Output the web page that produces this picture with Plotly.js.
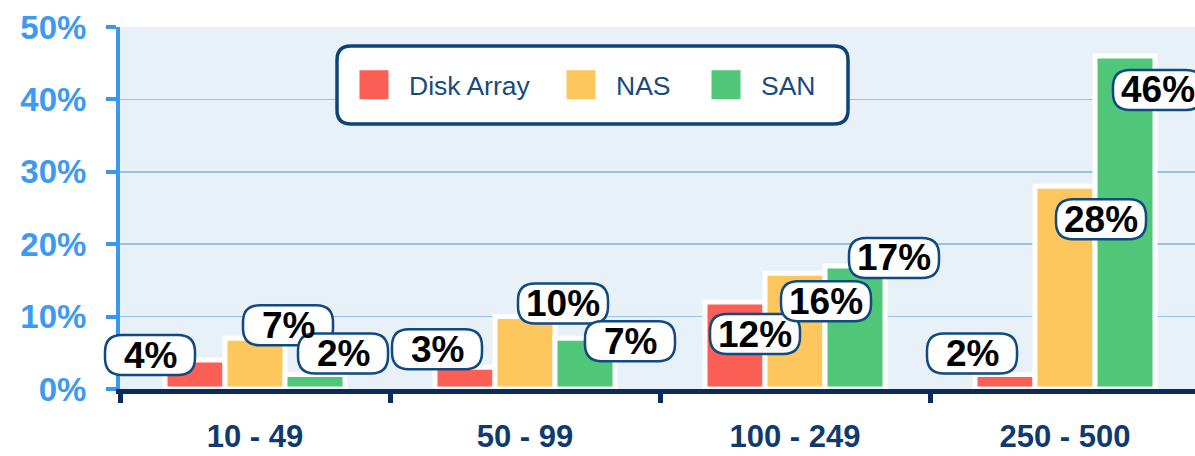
<!DOCTYPE html>
<html>
<head>
<meta charset="utf-8">
<script src="https://cdn.plot.ly/plotly-3.0.1.min.js"></script>
<style>
  html, body { margin: 0; padding: 0; background: #ffffff; }
  #chart { width: 1195px; height: 456px; }
  .shapelayer, .shapelayer * { clip-path: none !important; }
</style>
</head>
<body>
<div id="chart"></div>
<script>
// ---- data ----
const categories = ['10 - 49', '50 - 99', '100 - 249', '250 - 500'];
const diskArray = [4, 3, 12, 2];
const nas = [7, 10, 16, 28];
const san = [2, 7, 17, 46];
const seriesNames = ['Disk Array', 'NAS', 'SAN'];
const yTickValues = [0, 10, 20, 30, 40, 50];
const yTickLabels = ['0%', '10%', '20%', '30%', '40%', '50%'];

// ---- styling / label placement (pixels, relative to bar top centre) ----
const seriesColors = ['#fb5f55', '#fdc75e', '#4fc678'];
const labelOffsets = [
  [[-45, 5], [-28, 18], [20, -32], [-33, 21]],   // Disk Array
  [[33, 13], [38, 13], [31, -28], [36, -33]],     // NAS
  [[28, 21], [45, -3], [39, 8], [33, -34]]        // SAN
];
const legendStarts = [359, 566, 711];

const W = 1195, H = 456;
const M = { l: 120, r: 0, t: 27, b: 67 };
const plotW = W - M.l - M.r;
const plotH = H - M.t - M.b;
const catPx = 270;
const xRange = [-0.5, -0.5 + plotW / catPx];
const bargap = 1 / 3;
const barW = (1 - bargap) / 3;

const allSeries = [diskArray, nas, san];

const traces = allSeries.map((vals, k) => ({
  type: 'bar',
  name: seriesNames[k],
  x: categories,
  y: vals,
  legend: k === 0 ? 'legend' : 'legend' + (k + 1),
  marker: { color: seriesColors[k], line: { color: '#ffffff', width: 5 } },
  hoverinfo: 'x+y+name'
}));

function roundRect(x0, y0, x1, y1, r) {
  return `M${x0 + r},${y0} H${x1 - r} Q${x1},${y0} ${x1},${y0 + r} V${y1 - r} Q${x1},${y1} ${x1 - r},${y1} H${x0 + r} Q${x0},${y1} ${x0},${y1 - r} V${y0 + r} Q${x0},${y0} ${x0 + r},${y0} Z`;
}

const shapes = [];
const annotations = [];
allSeries.forEach((vals, k) => {
  vals.forEach((v, i) => {
    const xa = i + (k - 1) * barW;
    const [dx, dy] = labelOffsets[k][i];
    shapes.push({
      type: 'path', xref: 'x', yref: 'y',
      xsizemode: 'pixel', ysizemode: 'pixel',
      xanchor: xa, yanchor: v,
      path: roundRect(dx - 45, dy - 20, dx + 45, dy + 20, 17),
      fillcolor: '#ffffff',
      line: { color: '#114a80', width: 2.5 },
      layer: 'above'
    });
    annotations.push({
      x: xa, y: v, xref: 'x', yref: 'y',
      xshift: dx, yshift: dy,
      text: v + '%',
      showarrow: false,
      xanchor: 'center', yanchor: 'middle',
      font: { family: 'Liberation Sans, Arial, sans-serif', size: 37, color: '#000000', weight: 'bold' }
    });
  });
});

// legend frame
shapes.push({
  type: 'path', xref: 'paper', yref: 'paper',
  xsizemode: 'pixel', ysizemode: 'pixel',
  xanchor: (337 - M.l) / plotW, yanchor: (H - M.b - 46) / plotH,
  path: roundRect(0, -78, 511, 0, 14),
  fillcolor: '#ffffff',
  line: { color: '#0d4377', width: 3.5 },
  layer: 'above'
});

const legendFont = { family: 'Liberation Sans, Arial, sans-serif', size: 26.5, color: '#174b80' };
function legendAt(px) {
  return {
    x: (px - M.l) / plotW, y: (H - M.b - 85) / plotH,
    xanchor: 'left', yanchor: 'middle',
    orientation: 'h', bgcolor: 'rgba(0,0,0,0)', borderwidth: 0,
    itemwidth: 40,
    font: legendFont
  };
}

const layout = {
  width: W, height: H,
  margin: M,
  paper_bgcolor: '#ffffff',
  plot_bgcolor: '#e8f1f7',
  barmode: 'group',
  bargap: bargap,
  bargroupgap: 0,
  showlegend: true,
  legend: legendAt(legendStarts[0]),
  legend2: legendAt(legendStarts[1]),
  legend3: legendAt(legendStarts[2]),
  xaxis: {
    type: 'category',
    range: xRange,
    showgrid: false,
    showline: true, linecolor: '#0b2b5e', linewidth: 5,
    ticks: 'outside', tickson: 'boundaries', ticklen: 9, tickwidth: 5, tickcolor: '#0b2b5e',
    tickfont: { family: 'Liberation Sans, Arial, sans-serif', size: 31, color: '#0f3a6e', weight: 'bold' },
    ticklabelstandoff: 16,
    fixedrange: true
  },
  yaxis: {
    range: [0, 50],
    tickvals: yTickValues,
    ticktext: yTickLabels,
    showgrid: true, gridcolor: '#97c0ea', gridwidth: 1.5,
    zeroline: false,
    showline: true, linecolor: '#3a97ee', linewidth: 4,
    ticks: 'outside', ticklen: 10, tickwidth: 4, tickcolor: '#3a97ee',
    tickfont: { family: 'Liberation Sans, Arial, sans-serif', size: 33, color: '#3d9af0', weight: 'bold' },
    ticklabelstandoff: 13,
    fixedrange: true
  },
  shapes: shapes,
  annotations: annotations
};

function fixLegendIcons() {
  document.querySelectorAll('.legendpoints path').forEach(function (p) {
    p.setAttribute('d', 'M4.5,14.5H-24.5V-14.5H4.5Z');
    p.style.strokeWidth = '0';
  });
  document.querySelectorAll('.shapelayer path').forEach(function (p) { p.removeAttribute('clip-path'); });
}

Plotly.newPlot('chart', traces, layout, { displayModeBar: false, staticPlot: true }).then(function () {
  fixLegendIcons();
  setTimeout(fixLegendIcons, 50);
});
</script>
</body>
</html>
